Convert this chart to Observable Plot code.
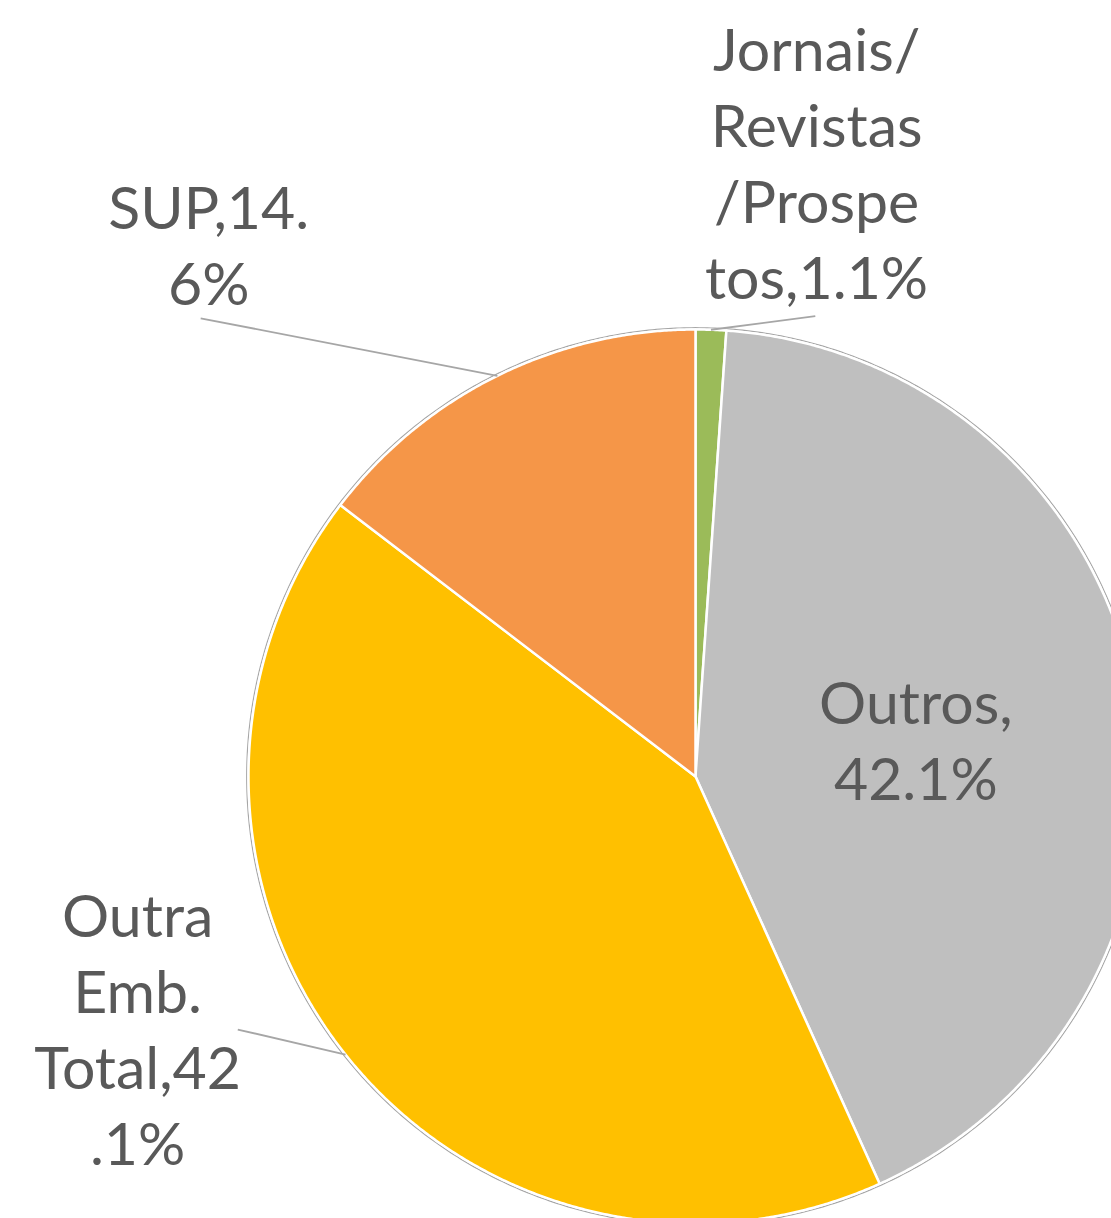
<!DOCTYPE html>
<html>
<head>
<meta charset="utf-8">
<script src="https://cdn.jsdelivr.net/npm/d3@7"></script>
<script src="https://cdn.jsdelivr.net/npm/@observablehq/plot@0.6"></script>
<style>
  html, body { margin: 0; padding: 0; background: #ffffff; }
  #chart { width: 1111px; height: 1218px; overflow: hidden; }
</style>
</head>
<body>
<div id="chart"></div>
<script>
// ---- data (clockwise from 12 o'clock) ----
const categories = ["Jornais/Revistas/Prospetos", "Outros", "Outra Emb. Total", "SUP"];
const values = [1.1, 42.1, 42.1, 14.6];
const labels = ["Jornais/\nRevistas\n/Prospe\ntos,1.1%", "Outros,\n42.1%", "Outra\nEmb.\nTotal,42\n.1%", "SUP,14.\n6%"];
const colors = ["#9BBB59", "#BFBFBF", "#FFC000", "#F59648"];

// ---- layout (label anchors in radius units) ----
const labelAnchors = [[0.271, 1.377], [0.493, 0.086], [-1.248, -0.560], [-1.089, 1.195]];
const leaderStarts = [[0.268, 1.03], null, [-1.024, -0.566], [-1.107, 1.025]];

const total = d3.sum(values);
const slices = [];
let acc = 0;
values.forEach((v, i) => {
  slices.push({name: categories[i], value: v, start: acc / total * 2 * Math.PI, end: (acc + v) / total * 2 * Math.PI});
  acc += v;
});

// polygon outline for each slice (geometry of the arc)
const polys = [];
slices.forEach(s => {
  polys.push({name: s.name, x: 0, y: 0});
  const n = Math.max(2, Math.ceil((s.end - s.start) / 0.005));
  for (let k = 0; k <= n; k++) {
    const a = s.start + (s.end - s.start) * k / n;
    polys.push({name: s.name, x: Math.sin(a), y: Math.cos(a)});
  }
  polys.push({name: s.name, x: 0, y: 0});
});

const ring = d3.range(0, 721).map(k => {
  const a = k / 720 * 2 * Math.PI;
  return {x: 1.004 * Math.sin(a), y: 1.004 * Math.cos(a)};
});

const labelData = slices.map((s, i) => ({
  name: s.name, text: labels[i], x: labelAnchors[i][0], y: labelAnchors[i][1]
}));

const leaders = slices.map((s, i) => {
  if (!leaderStarts[i]) return null;
  const m = (s.start + s.end) / 2;
  return {x1: leaderStarts[i][0], y1: leaderStarts[i][1], x2: Math.sin(m), y2: Math.cos(m)};
}).filter(d => d);

const cx = 695, cy = 776, r = 447;

const chart = Plot.plot({
  width: 1111,
  height: 1218,
  margin: 0,
  style: {background: "#ffffff", fontFamily: "Lato, 'Open Sans', sans-serif"},
  x: {domain: [-1, 1], range: [cx - r, cx + r], axis: null},
  y: {domain: [-1, 1], range: [cy + r, cy - r], axis: null},
  color: {domain: categories, range: colors},
  marks: [
    Plot.line(ring, {x: "x", y: "y", stroke: "#A6A6A6", strokeWidth: 1.2}),
    Plot.line(polys, {x: "x", y: "y", z: "name", fill: "name", stroke: "#ffffff", strokeWidth: 2.5, strokeLinejoin: "round", curve: "linear"}),
    Plot.link(leaders, {x1: "x1", y1: "y1", x2: "x2", y2: "y2", stroke: "#A6A6A6", strokeWidth: 1.8}),
    Plot.text(labelData, {x: "x", y: "y", text: "text", fill: "#595959", fontSize: 59, lineHeight: 1.29, textAnchor: "middle", lineAnchor: "middle"})
  ]
});

document.getElementById("chart").appendChild(chart);
</script>
</body>
</html>
